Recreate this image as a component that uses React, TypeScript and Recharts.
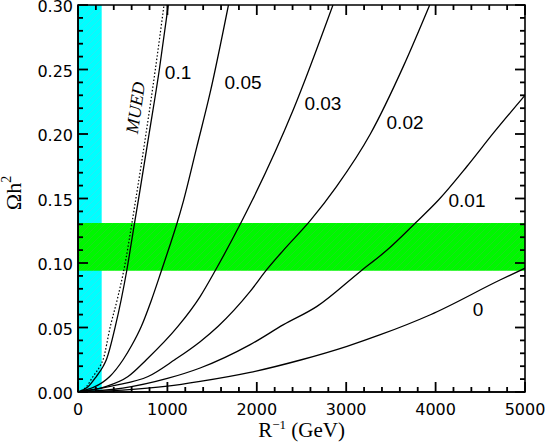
import { LineChart, Line, XAxis, YAxis, ReferenceArea, ReferenceDot, Label } from 'recharts'

// ticks
const xTicks = [0, 200, 400, 600, 800, 1000, 1200, 1400, 1600, 1800, 2000, 2200, 2400, 2600, 2800, 3000,
  3200, 3400, 3600, 3800, 4000, 4200, 4400, 4600, 4800, 5000]
const yTicks = [0, 0.01, 0.02, 0.03, 0.04, 0.05, 0.06, 0.07, 0.08, 0.09, 0.1, 0.11, 0.12, 0.13, 0.14, 0.15,
  0.16, 0.17, 0.18, 0.19, 0.2, 0.21, 0.22, 0.23, 0.24, 0.25, 0.26, 0.27, 0.28, 0.29, 0.3]

// bands
const cyanBand = [0, 265]
const greenBand = [0.094, 0.131]

// curves: [R^-1 (GeV), Omega h^2]
const curveMued: [number, number][] = [
  [0, 0], [93, 0.004], [168, 0.012], [246, 0.02], [280, 0.025], [362, 0.051], [440, 0.072],
  [520, 0.097], [601, 0.13], [650, 0.151], [760, 0.2], [865, 0.25], [962, 0.3]
]
const curve010: [number, number][] = [
  [0, 0], [112, 0.004], [205, 0.012], [282, 0.02], [317, 0.025], [418, 0.051], [545, 0.094],
  [630, 0.13], [690, 0.155], [795, 0.2], [910, 0.25], [1010, 0.3]
]
const curve005: [number, number][] = [
  [0, 0], [355, 0.012], [504, 0.025], [600, 0.036], [709, 0.051], [820, 0.071], [933, 0.094],
  [1020, 0.112], [1104, 0.13], [1179, 0.148], [1329, 0.19], [1478, 0.232], [1683, 0.3]
]
const curve003: [number, number][] = [
  [0, 0], [300, 0.004], [560, 0.012], [765, 0.025], [1120, 0.051], [1366, 0.074], [1534, 0.094],
  [1814, 0.13], [1945, 0.148], [2409, 0.219], [2852, 0.3]
]
const curve002: [number, number][] = [
  [0, 0], [400, 0.005], [784, 0.012], [1082, 0.025], [1366, 0.039], [1568, 0.051], [1926, 0.078],
  [2113, 0.095], [2299, 0.11], [2600, 0.133], [2889, 0.159], [3270, 0.2], [3643, 0.253], [3934, 0.3]
]
const curve001: [number, number][] = [
  [0, 0], [500, 0.003], [1000, 0.0105], [1366, 0.0186], [1926, 0.0367], [2299, 0.0522],
  [2673, 0.0664], [3158, 0.0935], [3457, 0.11], [3774, 0.131], [4035, 0.149], [4352, 0.175],
  [4650, 0.201], [5000, 0.23]
]
const curve000: [number, number][] = [
  [0, 0], [500, 0.0015], [1000, 0.0045], [1366, 0.0082], [1926, 0.0152], [2500, 0.025],
  [3009, 0.0354], [3382, 0.0444], [3942, 0.0599], [4726, 0.087], [5000, 0.096]
]

const solidCurves = [curve010, curve005, curve003, curve002, curve001, curve000]
const curveLabels = ['0.1', '0.05', '0.03', '0.02', '0.01', '0']
const labelX = [1119, 1846, 2740, 3658, 4351, 4474]
const labelY = [0.248, 0.24, 0.224, 0.209, 0.149, 0.064]
const muedLabel = { x: 638, y: 0.2204, text: 'MUED' }

const toPoints = (c: [number, number][]) => c.map(([x, y]) => ({ x, y }))

const tickFont = '"DejaVu Sans", sans-serif'
const serif = '"Liberation Serif", "Times New Roman", serif'

const isMajorX = (v: number) => v % 1000 === 0
const isMajorY = (v: number) => Math.round(v * 100) % 5 === 0

function BottomLabel(props: any) {
  const { x, y, payload } = props
  if (!isMajorX(payload.value)) return <g />
  return (
    <text x={x} y={y + 23} textAnchor="middle" fontFamily={tickFont} fontSize={16} fill="#000">
      {payload.value}
    </text>
  )
}

function LeftLabel(props: any) {
  const { x, y, payload } = props
  if (!isMajorY(payload.value)) return <g />
  return (
    <text x={x - 5} y={y} dy="0.45em" textAnchor="end" fontFamily={tickFont} fontSize={16} fill="#000">
      {Number(payload.value).toFixed(2)}
    </text>
  )
}

// inward tick marks on all four sides of the frame, drawn as small filled bars
const tickMark = (side: 'b' | 't' | 'l' | 'r', len: number) => (p: any) => {
  const { cx, cy } = p
  const w = 1.8
  if (side === 'b') return <rect x={cx - w / 2} y={cy - len} width={w} height={len} fill="#000" />
  if (side === 't') return <rect x={cx - w / 2} y={cy} width={w} height={len} fill="#000" />
  if (side === 'l') return <rect x={cx} y={cy - w / 2} width={len} height={w} fill="#000" />
  return <rect x={cx - len} y={cy - w / 2} width={len} height={w} fill="#000" />
}

export default function App() {
  return (
    <div style={{ position: 'absolute', left: 0, top: 0, width: 545, height: 446, background: '#fff' }}>
      <LineChart width={545} height={446} margin={{ top: 5, right: 20, bottom: 0, left: 0 }}>
        <defs>
          <pattern id="cyanHatch" width="7" height="7" patternUnits="userSpaceOnUse">
            <rect width="7" height="7" fill="#00ffff" />
            <line x1="0" y1="7" x2="7" y2="0" stroke="#2ee6f2" strokeWidth="0.8" />
          </pattern>
          <pattern id="greenHatch" width="7" height="7" patternUnits="userSpaceOnUse">
            <rect width="7" height="7" fill="#00f700" />
            <line x1="0" y1="7" x2="7" y2="0" stroke="#22dc22" strokeWidth="0.8" />
          </pattern>
        </defs>
        <ReferenceArea x1={cyanBand[0]} x2={cyanBand[1]} y1={0} y2={0.3} fill="url(#cyanHatch)" fillOpacity={1} stroke="none" />
        <ReferenceArea x1={0} x2={5000} y1={greenBand[0]} y2={greenBand[1]} fill="url(#greenHatch)" fillOpacity={1} stroke="none" />
        <ReferenceArea x1={0} x2={5000} y1={0} y2={0.3} fill="none" stroke="#000" strokeWidth={1.6} />
        <XAxis
          dataKey="x"
          type="number"
          domain={[0, 5000]}
          ticks={xTicks}
          interval={0}
          allowDataOverflow
          height={54}
          tickSize={0}
          tickMargin={0}
          tickLine={false}
          axisLine={{ stroke: '#000', strokeWidth: 1.6 }}
          tick={BottomLabel}
        >
          <Label
            content={(p: any) => {
              const vb = p.viewBox
              return (
                <text x={vb.x + vb.width / 2} y={vb.y + 45} textAnchor="middle" fontFamily={serif} fontSize={21} fill="#000">
                  R<tspan dy={-8} fontSize={13}>−1</tspan>
                  <tspan dy={8}>{'  (GeV)'}</tspan>
                </text>
              )
            }}
          />
        </XAxis>
        <YAxis
          type="number"
          domain={[0, 0.3]}
          ticks={yTicks}
          interval={0}
          allowDataOverflow
          width={78}
          tickSize={0}
          tickMargin={0}
          tickLine={false}
          axisLine={{ stroke: '#000', strokeWidth: 1.6 }}
          tick={LeftLabel}
        >
          <Label
            content={(p: any) => {
              const vb = p.viewBox
              const cx = vb.x + 21
              const cy = 193
              return (
                <text x={cx} y={cy} transform={`rotate(-90, ${cx}, ${cy})`} textAnchor="middle" fontFamily={serif} fontSize={22} fill="#000">
                  Ωh<tspan dy={-10} fontSize={14}>2</tspan>
                </text>
              )
            }}
          />
        </YAxis>
        <Line
          data={toPoints(curveMued)}
          dataKey="y"
          type="monotone"
          stroke="#000"
          strokeWidth={1.2}
          strokeDasharray="1.5 2"
          dot={false}
          activeDot={false}
          isAnimationActive={false}
        />
        {solidCurves.map((c, i) => (
          <Line
            key={curveLabels[i]}
            data={toPoints(c)}
            dataKey="y"
            type="monotone"
            stroke="#000"
            strokeWidth={1.3}
            dot={false}
            activeDot={false}
            isAnimationActive={false}
          />
        ))}
        {xTicks.map((v) => (
          <ReferenceDot key={'b' + v} x={v} y={0} r={0} ifOverflow="visible" shape={tickMark('b', isMajorX(v) ? 10 : 5)} />
        ))}
        {xTicks.map((v) => (
          <ReferenceDot key={'t' + v} x={v} y={0.3} r={0} ifOverflow="visible" shape={tickMark('t', isMajorX(v) ? 10 : 5)} />
        ))}
        {yTicks.map((v) => (
          <ReferenceDot key={'l' + v} x={0} y={v} r={0} ifOverflow="visible" shape={tickMark('l', isMajorY(v) ? 10 : 5)} />
        ))}
        {yTicks.map((v) => (
          <ReferenceDot key={'r' + v} x={5000} y={v} r={0} ifOverflow="visible" shape={tickMark('r', isMajorY(v) ? 10 : 5)} />
        ))}
        {curveLabels.map((t, i) => (
          <ReferenceDot
            key={'lab' + t}
            x={labelX[i]}
            y={labelY[i]}
            r={0}
            shape={(p: any) => (
              <text x={p.cx} y={p.cy} dy="0.36em" textAnchor="middle" fontFamily='"Liberation Sans", Arial, sans-serif' fontSize={19} fill="#000">
                {t}
              </text>
            )}
          />
        ))}
        <ReferenceDot
          x={muedLabel.x}
          y={muedLabel.y}
          r={0}
          shape={(p: any) => (
            <text
              x={p.cx}
              y={p.cy}
              dy="0.36em"
              transform={`rotate(-82, ${p.cx}, ${p.cy})`}
              textAnchor="middle"
              fontFamily={serif}
              fontStyle="italic"
              fontSize={18}
              fill="#000"
            >
              {muedLabel.text}
            </text>
          )}
        />
      </LineChart>
    </div>
  )
}
